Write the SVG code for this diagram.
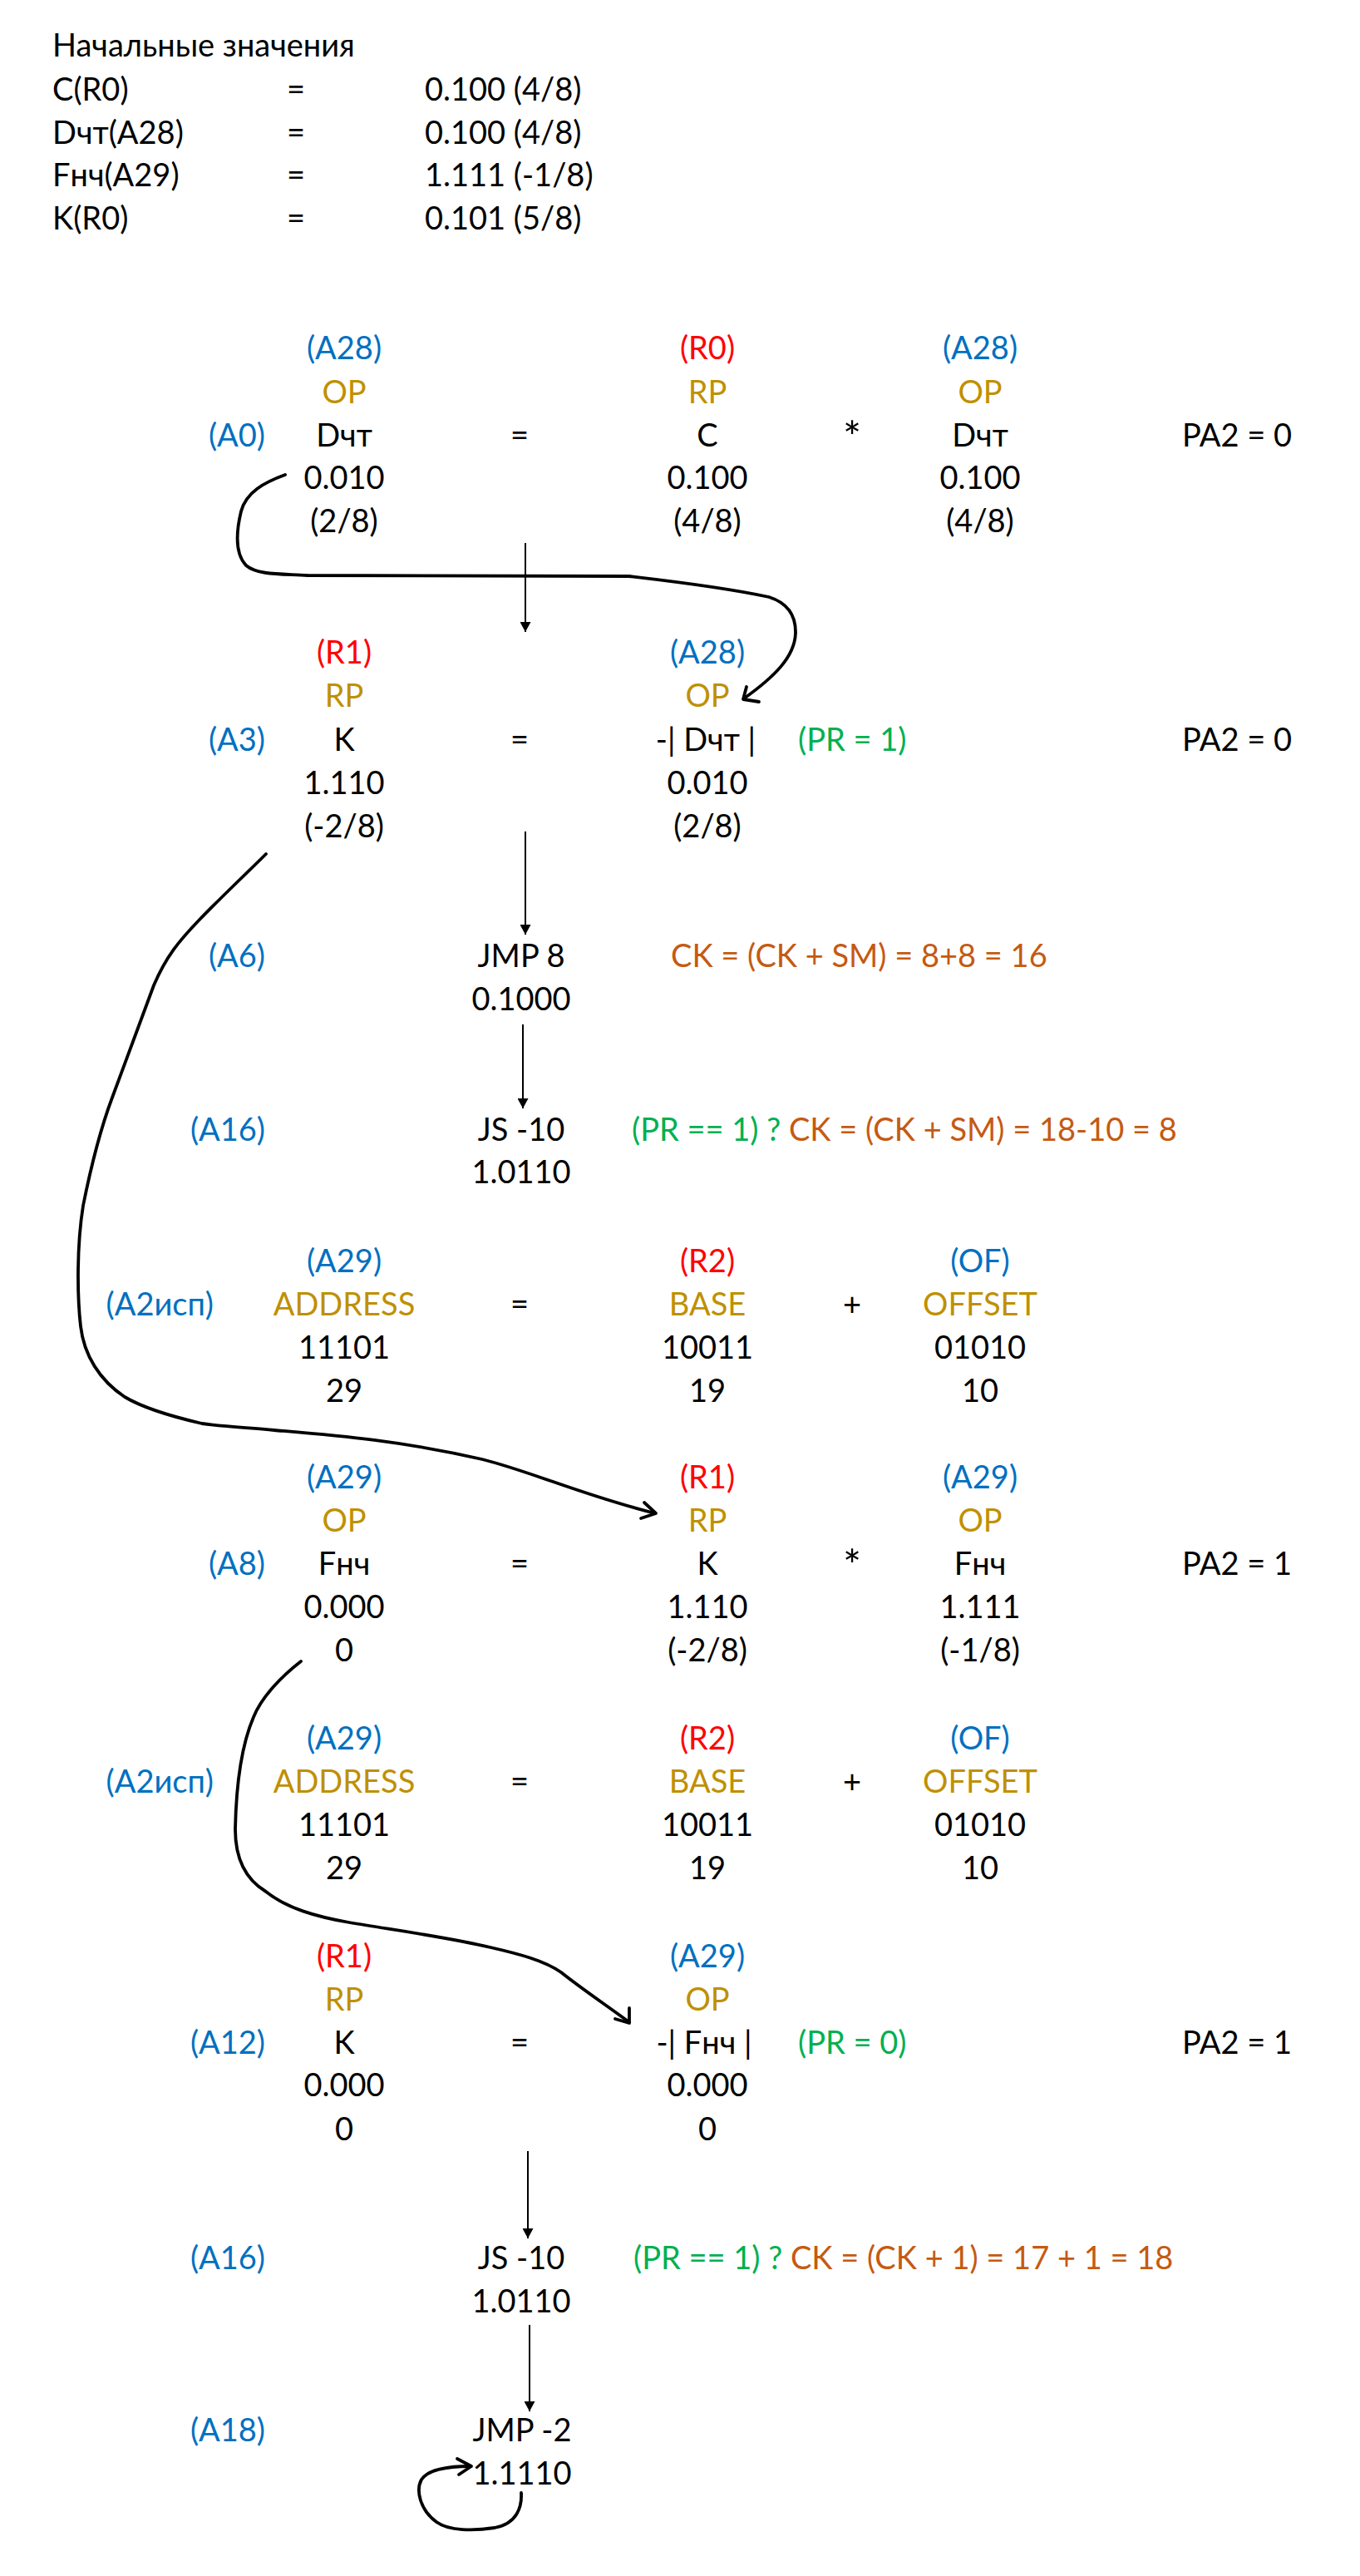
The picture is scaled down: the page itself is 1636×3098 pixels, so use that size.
<svg xmlns="http://www.w3.org/2000/svg" width="1636" height="3098" viewBox="0 0 1636 3098">
<style>
text{font-family:Lato,"Noto Sans","DejaVu Sans",sans-serif;font-size:38px;fill:#000}
.m{text-anchor:middle}.e{text-anchor:end}
.st{font-size:52px}
.b{fill:#0070C0}.r{fill:#FF0000}.g{fill:#BF9000}.gr{fill:#00B050}.o{fill:#C55A11}
.ar{stroke:#000;stroke-width:2;fill:none}
.cv{stroke:#000;stroke-width:3.8;fill:none;stroke-linecap:round;stroke-linejoin:round}
</style>
<defs>
<marker id="ah" viewBox="0 0 12 13" refX="12" refY="6.5" markerWidth="12" markerHeight="13" markerUnits="userSpaceOnUse" orient="auto"><path d="M0,0 L12,6.5 L0,13 z" fill="#000"/></marker>
</defs>
<rect width="1636" height="3098" fill="#fff"/>
<g id="init">
<text x="63" y="68">Начальные значения</text>
<text x="63" y="121">C(R0)</text><text x="356" y="121" class="m">=</text><text x="511" y="121">0.100 (4/8)</text>
<text x="63" y="173">Dчт(A28)</text><text x="356" y="173" class="m">=</text><text x="511" y="173">0.100 (4/8)</text>
<text x="63" y="224">Fнч(A29)</text><text x="356" y="224" class="m">=</text><text x="511" y="224">1.111 (-1/8)</text>
<text x="63" y="276">K(R0)</text><text x="356" y="276" class="m">=</text><text x="511" y="276">0.101 (5/8)</text>
</g>
<g id="A0">
<text x="319" y="537" class="e b">(A0)</text>
<text x="414" y="432" class="m b">(A28)</text><text x="414" y="485" class="m g">OP</text><text x="414" y="537" class="m">Dчт</text><text x="414" y="588" class="m">0.010</text><text x="414" y="640" class="m">(2/8)</text>
<text x="625" y="537" class="m">=</text>
<text x="851" y="432" class="m r">(R0)</text><text x="851" y="485" class="m g">RP</text><text x="851" y="537" class="m">C</text><text x="851" y="588" class="m">0.100</text><text x="851" y="640" class="m">(4/8)</text>
<text x="1025" y="545" class="m st">*</text>
<text x="1179" y="432" class="m b">(A28)</text><text x="1179" y="485" class="m g">OP</text><text x="1179" y="537" class="m">Dчт</text><text x="1179" y="588" class="m">0.100</text><text x="1179" y="640" class="m">(4/8)</text>
<text x="1488" y="537" class="m">PA2 = 0</text>
</g>
<g id="A3">
<text x="319" y="903" class="e b">(A3)</text>
<text x="414" y="798" class="m r">(R1)</text><text x="414" y="850" class="m g">RP</text><text x="414" y="903" class="m">K</text><text x="414" y="955" class="m">1.110</text><text x="414" y="1007" class="m">(-2/8)</text>
<text x="625" y="903" class="m">=</text>
<text x="851" y="798" class="m b">(A28)</text><text x="851" y="850" class="m g">OP</text><text x="849" y="903" class="m">-| Dчт |</text><text x="851" y="955" class="m">0.010</text><text x="851" y="1007" class="m">(2/8)</text>
<text x="960" y="903" class="gr">(PR = 1)</text>
<text x="1488" y="903" class="m">PA2 = 0</text>
</g>
<g id="A6">
<text x="319" y="1163" class="e b">(A6)</text>
<text x="627" y="1163" class="m">JMP 8</text><text x="627" y="1215" class="m">0.1000</text>
<text x="807" y="1163" class="o">CK = (CK + SM) = 8+8 = 16</text>
</g>
<g id="A16a">
<text x="319" y="1372" class="e b">(A16)</text>
<text x="627" y="1372" class="m">JS -10</text><text x="627" y="1423" class="m">1.0110</text>
<text x="760" y="1372"><tspan class="gr">(PR == 1) ? </tspan><tspan class="o">CK = (CK + SM) = 18-10 = 8</tspan></text>
</g>
<g id="A2a">
<text x="257" y="1582" class="e b">(A2исп)</text>
<text x="414" y="1530" class="m b">(A29)</text><text x="414" y="1582" class="m g">ADDRESS</text><text x="414" y="1634" class="m">11101</text><text x="414" y="1686" class="m">29</text>
<text x="625" y="1582" class="m">=</text>
<text x="851" y="1530" class="m r">(R2)</text><text x="851" y="1582" class="m g">BASE</text><text x="851" y="1634" class="m">10011</text><text x="851" y="1686" class="m">19</text>
<text x="1025" y="1582" class="m">+</text>
<text x="1179" y="1530" class="m b">(OF)</text><text x="1179" y="1582" class="m g">OFFSET</text><text x="1179" y="1634" class="m">01010</text><text x="1179" y="1686" class="m">10</text>
</g>
<g id="A8">
<text x="319" y="1894" class="e b">(A8)</text>
<text x="414" y="1790" class="m b">(A29)</text><text x="414" y="1842" class="m g">OP</text><text x="414" y="1894" class="m">Fнч</text><text x="414" y="1946" class="m">0.000</text><text x="414" y="1998" class="m">0</text>
<text x="625" y="1894" class="m">=</text>
<text x="851" y="1790" class="m r">(R1)</text><text x="851" y="1842" class="m g">RP</text><text x="851" y="1894" class="m">K</text><text x="851" y="1946" class="m">1.110</text><text x="851" y="1998" class="m">(-2/8)</text>
<text x="1025" y="1902" class="m st">*</text>
<text x="1179" y="1790" class="m b">(A29)</text><text x="1179" y="1842" class="m g">OP</text><text x="1179" y="1894" class="m">Fнч</text><text x="1179" y="1946" class="m">1.111</text><text x="1179" y="1998" class="m">(-1/8)</text>
<text x="1488" y="1894" class="m">PA2 = 1</text>
</g>
<g id="A2b">
<text x="257" y="2156" class="e b">(A2исп)</text>
<text x="414" y="2104" class="m b">(A29)</text><text x="414" y="2156" class="m g">ADDRESS</text><text x="414" y="2208" class="m">11101</text><text x="414" y="2260" class="m">29</text>
<text x="625" y="2156" class="m">=</text>
<text x="851" y="2104" class="m r">(R2)</text><text x="851" y="2156" class="m g">BASE</text><text x="851" y="2208" class="m">10011</text><text x="851" y="2260" class="m">19</text>
<text x="1025" y="2156" class="m">+</text>
<text x="1179" y="2104" class="m b">(OF)</text><text x="1179" y="2156" class="m g">OFFSET</text><text x="1179" y="2208" class="m">01010</text><text x="1179" y="2260" class="m">10</text>
</g>
<g id="A12">
<text x="319" y="2470" class="e b">(A12)</text>
<text x="414" y="2366" class="m r">(R1)</text><text x="414" y="2418" class="m g">RP</text><text x="414" y="2470" class="m">K</text><text x="414" y="2521" class="m">0.000</text><text x="414" y="2574" class="m">0</text>
<text x="625" y="2470" class="m">=</text>
<text x="851" y="2366" class="m b">(A29)</text><text x="851" y="2418" class="m g">OP</text><text x="847" y="2470" class="m">-| Fнч |</text><text x="851" y="2521" class="m">0.000</text><text x="851" y="2574" class="m">0</text>
<text x="960" y="2470" class="gr">(PR = 0)</text>
<text x="1488" y="2470" class="m">PA2 = 1</text>
</g>
<g id="A16b">
<text x="319" y="2729" class="e b">(A16)</text>
<text x="627" y="2729" class="m">JS -10</text><text x="627" y="2781" class="m">1.0110</text>
<text x="762" y="2729"><tspan class="gr">(PR == 1) ? </tspan><tspan class="o">CK = (CK + 1) = 17 + 1 = 18</tspan></text>
</g>
<g id="A18">
<text x="319" y="2936" class="e b">(A18)</text>
<text x="628" y="2936" class="m">JMP -2</text><text x="628" y="2988" class="m">1.1110</text>
</g>
<g id="connectors">
<line class="ar" x1="632" y1="653" x2="632" y2="760" marker-end="url(#ah)"/>
<line class="ar" x1="632" y1="1000" x2="632" y2="1124" marker-end="url(#ah)"/>
<line class="ar" x1="629" y1="1232" x2="629" y2="1333" marker-end="url(#ah)"/>
<line class="ar" x1="635" y1="2587" x2="635" y2="2692" marker-end="url(#ah)"/>
<line class="ar" x1="637" y1="2796" x2="637" y2="2900" marker-end="url(#ah)"/>
<path class="cv" d="M343,571 C318,580 296,592 290,615 C284,640 282,665 296,680 C310,692 340,690 370,692 L757,693 C800,698 870,706 925,718 C950,726 957,742 957,760 C957,790 930,815 895,840"/>
<path class="cv" d="M898,826 L894,841 L913,844"/>
<path class="cv" d="M320,1027 C300,1047 265,1080 240,1106 S200,1150 185,1185 C170,1225 150,1280 135,1320 S108,1410 100,1450 C92,1500 93,1560 97,1595 S120,1660 150,1680 C170,1692 200,1702 243,1712 C270,1716 300,1717 330,1720 C400,1726 480,1732 580,1755 C640,1770 700,1798 788,1820"/>
<path class="cv" d="M775,1807 L789,1820 L771,1826"/>
<path class="cv" d="M362,1998 C340,2015 315,2040 305,2065 C290,2100 284,2150 283,2200 C283,2235 295,2260 320,2275 C345,2295 380,2305 420,2312 C480,2322 540,2330 590,2342 C625,2350 655,2358 675,2372 C700,2392 730,2412 757,2432"/>
<path class="cv" d="M757,2415 L757,2433 L740,2428"/>
<path class="cv" d="M627,2998 C628,3015 622,3035 595,3040 C570,3044 540,3044 525,3033 C505,3018 500,2995 507,2982 C515,2970 540,2966 566,2966"/>
<path class="cv" d="M550,2957 L567,2966 L552,2976"/>
</g>
</svg>
